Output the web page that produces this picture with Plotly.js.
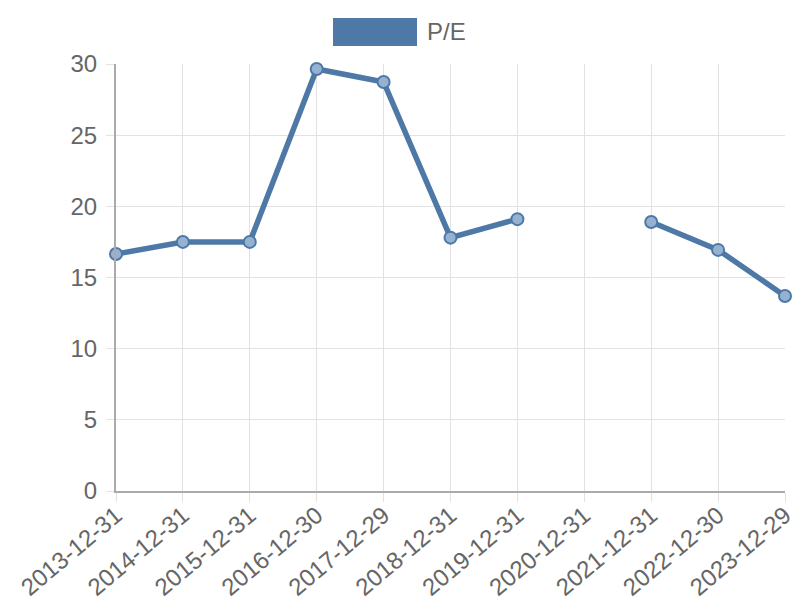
<!DOCTYPE html>
<html>
<head>
<meta charset="utf-8">
<script src="https://cdn.plot.ly/plotly-3.0.1.min.js"></script>
<style>html,body{margin:0;padding:0;background:#fff;}#chart{width:800px;height:600px;}</style>
</head>
<body>
<div id="chart"></div>
<script>
const dates = ["2013-12-31","2014-12-31","2015-12-31","2016-12-30","2017-12-29","2018-12-31","2019-12-31","2020-12-31","2021-12-31","2022-12-30","2023-12-29"];
const peValues = [16.65, 17.5, 17.5, 29.65, 28.74, 17.8, 19.1, null, 18.9, 16.94, 13.7];
const seriesName = "P/E";
const yTicks = [0, 5, 10, 15, 20, 25, 30];

const blue = "#4e79a7";
const trace = {
  x: dates, y: peValues, type: "scatter", mode: "lines+markers",
  name: seriesName, connectgaps: false, showlegend: false,
  line: {color: blue, width: 5.5},
  marker: {size: 12, color: "rgba(150,178,210,1)", line: {color: blue, width: 2}},
  cliponaxis: false
};
const layout = {
  width: 800, height: 600,
  margin: {l: 116, r: 15, t: 64, b: 109},
  paper_bgcolor: "#fff", plot_bgcolor: "#fff",
  font: {family: "Liberation Sans, Arial, sans-serif", color: "#666", size: 24},
  showlegend: false,
  xaxis: {
    type: "category", range: [0, dates.length - 1],
    showgrid: true, gridcolor: "#e2e2e2", gridwidth: 1,
    ticks: "outside", ticklen: 9, tickcolor: "#e2e2e2",
    ticklabelstandoff: -10,
    tickangle: -40, tickfont: {size: 24, color: "#666"},
    showline: true, linecolor: "#aaa", linewidth: 2,
    zeroline: false, fixedrange: true
  },
  yaxis: {
    range: [0, 30], tickvals: yTicks,
    showgrid: true, gridcolor: "#e2e2e2", gridwidth: 1,
    ticks: "outside", ticklen: 8, tickcolor: "#e2e2e2",
    ticklabelstandoff: 4,
    tickfont: {size: 24, color: "#666"},
    showline: true, linecolor: "#aaa", linewidth: 2,
    zeroline: false, fixedrange: true
  },
  shapes: [{
    type: "rect", xref: "paper", yref: "paper",
    x0: (333 - 116) / 669, x1: (417 - 116) / 669,
    y0: (491 - 46) / 427, y1: (491 - 18) / 427,
    fillcolor: blue, line: {width: 0}
  }],
  annotations: [{
    text: seriesName, xref: "paper", yref: "paper",
    x: (425 - 116) / 669, y: (491 - 32) / 427,
    xanchor: "left", yanchor: "middle", showarrow: false,
    font: {size: 24, color: "#666"}
  }]
};
Plotly.newPlot("chart", [trace], layout, {displayModeBar: false, staticPlot: true});
</script>
</body>
</html>
